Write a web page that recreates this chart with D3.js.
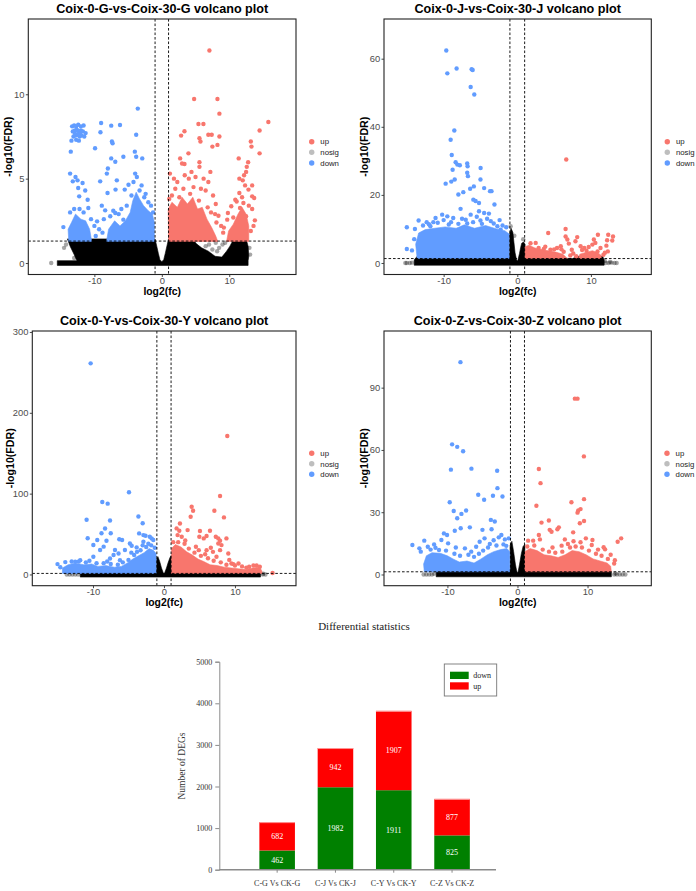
<!DOCTYPE html>
<html><head><meta charset="utf-8">
<script src="https://cdn.jsdelivr.net/npm/d3@7"></script>
<style>body{margin:0;background:#fff}svg{display:block}</style>
</head><body>
<svg id="chart" width="696" height="891"></svg>
<script>
// ---------------- DATA ----------------
const volcanoTitles = ["Coix-0-G-vs-Coix-30-G volcano plot","Coix-0-J-vs-Coix-30-J volcano plot","Coix-0-Y-vs-Coix-30-Y volcano plot","Coix-0-Z-vs-Coix-30-Z volcano plot"];
const legendLabels = ["up","nosig","down"];
const xTicks = [-10,0,10];
const gYTicks = [0,5,10];
const jYTicks = [0,20,40,60];
const yYTicks = [0,100,200,300];
const zYTicks = [0,30,60,90];
const fcCut = 1;
const fdrCut = 1.301;

// Panel G
const gNosigZones = [[[-15.5,-0.14],[-15.5,0.14],[-12.6,0.14],[-13.0,0.5],[-13.6,1.0],[-14.0,1.43],[-1.0,1.43],[-0.75,1.0],[-0.5,0.55],[-0.28,0.2],[0,0.08],[0.28,0.2],[0.5,0.55],[0.75,1.0],[1.0,1.43],[4.6,1.43],[5.1,1.15],[5.9,0.9],[6.9,0.7],[7.9,0.4],[8.9,0.35],[9.6,0.7],[10.1,1.0],[10.5,1.3],[10.7,1.43],[12.5,1.43],[12.8,1.0],[12.9,0.4],[12.8,0.14],[12.8,-0.14]]];
const gNosig = [[-16.4,0],[-14.5,0.9],[-14.2,1.1],[-13.0,0.3],[-12.3,0.3],[8.5,0.9],[9.0,1.1],[8.2,0.7],[9.4,1.2],[7.5,0.8],[6.5,1.0],[13.1,0.5],[13.0,0.9],[7.0,1.1],[8.0,1.2]];
const gUpZones = [
 [[1.0,1.28],[0.95,3.2],[1.5,3.6],[2.3,3.3],[3.0,3.9],[3.8,3.5],[4.6,3.9],[5.3,3.2],[6.0,3.3],[6.7,2.6],[7.4,2.1],[8.0,1.6],[8.3,1.28]],
 [[9.6,1.28],[9.9,1.9],[10.6,2.3],[11.3,2.9],[11.9,3.3],[12.5,2.9],[12.9,2.2],[12.9,1.28]]
];
const gDownZones = [
 [[-13.8,1.28],[-13.9,2.0],[-13.4,2.4],[-12.8,2.9],[-12.0,2.6],[-11.3,2.5],[-10.7,2.0],[-10.4,1.28]],
 [[-8.2,1.28],[-7.9,2.0],[-7.0,2.5],[-6.2,2.2],[-5.4,2.5],[-4.7,3.0],[-4.3,3.7],[-3.8,4.2],[-3.3,3.8],[-2.7,3.4],[-2.0,3.1],[-1.4,2.9],[-1.1,2.4],[-1.1,1.28]]
];
const gUp = [[7.06,12.59],[4.79,9.72],[8.25,9.72],[8.54,8.85],[15.8,8.36],[14.5,7.85],[3.36,7.81],[2.86,7.55],[5.43,8.24],[6.17,8.24],[6.9,7.6],[7.4,7.6],[8.54,7.5],[5.58,7.4],[5.73,7.2],[7.5,6.9],[8.25,7.0],[13.2,7.2],[13.3,6.9],[14.5,6.5],[3.95,6.5],[2.72,6.2],[11.4,6.2],[3.0,5.9],[3.36,5.87],[5.58,5.97],[12.8,5.97],[12.6,5.7],[5.58,5.7],
 [1.2,5.3],[1.8,5.0],[2.3,4.8],[3.4,5.2],[4.0,5.0],[4.4,5.4],[5.0,5.1],[6.2,5.0],[6.9,4.8],[7.2,5.4],[4.7,4.5],[2.0,4.4],[6.5,4.3],[7.6,4.0],[8.0,3.5],[8.4,2.8],[7.9,2.9],[1.5,4.0],[3.2,4.4],[5.8,4.4],[1.1,3.8],[2.6,3.9],[4.2,4.1],[5.5,3.7],[6.8,3.3],[7.3,3.0],[8.8,2.2],[9.1,1.8],
 [12.5,5.4],[12.2,5.2],[12.0,4.9],[11.5,5.0],[12.35,4.6],[13.4,4.6],[12.85,4.35],[11.5,4.15],[13.4,3.95],[13.7,3.85],[10.9,3.75],[11.1,3.65],[10.3,3.36],[9.8,2.96],[9.7,2.57],[11.6,3.26],[13.8,2.53],[12.5,2.77],[12.1,3.56],[8.1,2.4],[9.2,2.1],[13.4,3.2],[13.6,2.2],[10.6,2.7],[11.9,3.9],[12.9,3.4],[13.2,1.9]];
const gDown = [[-13.3,8.1],[-13.0,8.15],[-12.7,8.1],[-12.4,8.2],[-12.0,8.1],[-11.6,8.15],[-13.2,7.8],[-12.9,7.85],[-12.6,7.9],[-12.3,7.8],[-12.0,7.85],[-11.7,7.8],[-13.1,7.5],[-12.8,7.55],[-12.5,7.6],[-12.2,7.5],[-11.9,7.55],[-11.5,7.5],[-12.7,7.3],[-12.3,7.25],[-13.4,7.25],[-11.3,7.7],[-12.1,7.65],[-12.9,7.7],
 [-3.56,9.15],[-9.0,8.3],[-7.5,8.14],[-6.2,8.18],[-9.1,7.75],[-3.8,7.6],[-7.4,7.2],[-7.3,7.1],[-9.9,6.8],[-13.5,6.6],[-4.0,6.6],[-3.8,6.3],[-5.7,6.3],[-7.5,6.2],[-6.9,6.0],[-2.9,6.2],[-3.95,5.3],[-3.7,5.1],[-8.0,5.6],[-8.15,5.3],[-13.6,5.3],[-12.8,5.1],[-12.5,4.9],[-13.2,4.84],[-11.75,4.74],[-9.14,4.84],[-6.67,4.9],[-4.94,4.64],[-6.86,4.35],[-5.5,4.35],[-11.36,4.3],[-12.4,4.45],[-12.25,3.95],[-11.0,3.75],[-8.05,4.15],[-8.9,3.4],[-12.2,3.2],[-10.9,3.26],[-14.6,2.13],[-8.4,3.12],[-6.9,2.96],[-5.7,2.57],[-9.6,2.47],[-7.65,2.77],
 [-9.3,2.0],[-8.8,1.8],[-9.8,1.6],[-10.0,2.2],[-13.6,3.0],[-13.0,3.2],[-11.6,3.0],[-10.5,2.6],[-6.0,3.2],[-5.2,3.4],[-4.5,4.0],[-2.4,4.1],[-2.0,3.6],[-1.6,3.4],[-3.0,4.6],[-4.2,4.8],[-8.6,2.6],[-7.2,3.1],[-6.4,2.9],[-1.3,3.0],[-3.3,4.3],[-2.6,3.9]];

// Panel J
const jNosigZones = [[[-14.0,-0.65],[-14.0,0.9],[-13.6,1.95],[-1.05,1.95],[-1.05,8.5],[-0.85,10.2],[-0.6,9.0],[-0.45,6.0],[-0.3,3.0],[-0.1,1.0],[0,0.5],[0.1,1.0],[0.3,2.8],[0.45,4.5],[0.6,5.8],[0.85,6.2],[1.05,5.5],[1.05,1.95],[5.5,1.95],[6.2,1.4],[7.5,1.3],[8.2,1.95],[11.6,1.95],[11.8,0.9],[11.8,-0.65]]];
const jNosig = [[-15.0,0],[-14.6,0],[-14.3,0.1],[-15.2,0],[12.0,0],[12.4,0],[12.8,0.1],[13.2,0],[13.5,0],[11.9,0.6],[12.6,0.3],[-0.9,10.8],[0.8,7.0],[-0.4,8.0]];
const jUpZones = [
 [[1.05,1.3],[1.05,4.8],[1.6,5.2],[2.4,4.4],[3.2,4.0],[4.2,3.6],[5.2,3.2],[6.2,2.6],[6.8,1.3]],
 [[8.3,1.3],[8.5,2.6],[9.3,3.1],[10.2,3.6],[10.9,3.1],[11.4,2.2],[11.4,1.3]]
];
const jDownZones = [[[-13.6,1.3],[-13.8,5.5],[-13.4,8.8],[-12.5,9.8],[-11.2,10.2],[-9.8,10.6],[-8.3,10.2],[-7.2,11.2],[-5.8,10.2],[-4.3,11.0],[-2.8,10.0],[-1.7,9.5],[-1.1,8.5],[-1.1,1.3]]];
const jUp = [[6.65,30.4],[4.2,8.8],[6.56,10.0],[8.14,7.6],[10.95,8.3],[12.35,8.3],[13.0,7.8],[12.2,6.7],[12.9,6.6],[12.1,5.1],[10.4,6.9],[10.6,5.9],[10.2,5.4],[6.56,7.8],[6.8,6.9],[7.0,5.7],[5.9,4.9],[5.4,4.4],[7.9,6.4],[8.6,4.9],[9.1,4.4],[9.7,4.7],[2.5,5.9],[2.9,4.4],[3.6,4.1],[4.5,3.9],[11.3,4.4],[10.9,3.4],
 [7.2,2.2],[7.6,2.8],[8.0,2.0],[6.3,3.3],[7.4,3.9],[11.7,2.4],[11.9,3.0],[12.3,3.4],[1.8,5.8],[3.8,4.8],[5.0,4.0],[9.4,3.6],[8.8,3.8],[6.0,4.0]];
const jDown = [[-9.64,62.4],[-9.5,55.7],[-8.24,57.1],[-6.2,56.9],[-6.06,56.7],[-6.33,51.7],[-5.84,49.5],[-8.55,38.9],[-9.05,36.2],[-8.9,31.7],[-8.37,29.6],[-8.14,28.9],[-8.78,27.4],[-6.8,29.2],[-6.75,28.4],[-7.8,28.7],[-4.98,27.9],[-9.73,23.3],[-8.96,23.9],[-8.5,24.5],[-6.8,26.5],[-6.7,25.5],[-5.0,24.5],[-5.9,22.5],[-6.4,21.8],[-7.33,20.8],[-8.0,20.1],[-4.5,22.0],[-3.7,21.1],[-3.5,21.1],[-5.97,18.6],[-5.66,18.2],[-5.2,17.6],[-7.7,15.9],[-3.1,17.2],[-10.2,14.2],[-9.5,13.7],[-8.7,13.2],[-6.33,14.2],[-5.2,15.2],[-4.5,14.7],[-3.85,14.5],[-7.0,12.7],[-3.6,12.3],[-12.3,12.0],[-11.4,12.0],[-13.4,12.5],[-15.0,10.5],[-15.0,4.1],[-14.3,3.7],[-11.1,13.2],[-11.8,10.8],[-2.7,10.8],[-2.26,9.8],
 [-10.8,11.8],[-9.0,12.0],[-8.0,11.5],[-6.0,12.0],[-5.0,12.5],[-4.8,11.5],[-3.2,11.6],[-2.0,11.0],[-1.5,10.5],[-12.8,11.0],[-13.9,10.0],[-14.0,7.0],[-7.5,13.0],[-10.0,12.6],[-5.5,13.6],[-4.1,13.0],[-2.4,12.6],[-6.8,11.6],[-9.3,11.3],[-12.0,11.4]];

// Panel Y
const yNosigZones = [[[-11.8,-3.2],[-11.8,3.2],[-11.0,4.0],[-1.05,4.0],[-1.05,20],[-0.85,22],[-0.6,16],[-0.35,8],[-0.1,2],[0,1],[0.1,2],[0.35,8],[0.6,15],[0.85,21],[1.05,24],[1.05,4.0],[13.0,4.0],[13.6,3.0],[13.6,-3.2]]];
const yNosig = [[-13.7,0],[-13.3,0],[-12.9,0],[-12.5,0],[-12.1,0],[13.9,0],[14.3,0],[14.0,1.0]];
const yUpZones = [[[1.05,1.3],[1.05,32],[1.6,37],[2.4,34],[3.2,28],[4.0,24],[4.8,19],[5.6,16],[6.5,12],[7.5,11],[8.5,9],[9.5,8],[10.5,7],[11.5,6],[12.5,8],[13.5,9],[13.8,4],[13.8,1.3]]];
const yDownZones = [[[-14.3,1.3],[-14.3,8],[-13.5,12],[-12.5,14],[-11.3,12],[-10.2,13],[-9.3,10],[-8.2,11],[-7.0,9],[-6.0,10],[-5.2,14],[-4.4,19],[-3.6,23],[-2.8,27],[-2.1,32],[-1.5,30],[-1.1,26],[-1.1,1.3]]];
const yUp = [[8.92,171.3],[7.9,97.0],[7.1,78.8],[8.45,70.6],[3.9,83.8],[4.1,78.8],[3.76,71.4],[2.25,63.1],[1.78,57.0],[2.16,54.1],[3.33,54.9],[5.07,53.7],[6.48,54.1],[1.92,48.7],[2.5,46.6],[4.98,46.6],[6.0,47.5],[5.6,44.6],[7.3,46.6],[7.65,44.6],[8.8,44.6],[7.9,41.7],[7.65,38.4],[8.1,36.3],[7.9,30.1],[6.9,28],[4.5,34.3],[4.9,30.1],[6.0,30.1],[9.06,26],[9.5,13.6],[9.77,12.8],[10.5,13.6],[13.05,11.1],[13.5,9.5],[15.3,1.8],
 [1.3,40],[2.0,40],[2.9,38],[3.5,32],[4.3,27],[5.2,23],[6.2,20],[7.0,17],[8.0,15],[8.8,12],[10.0,11],[11.0,10],[12.0,9.5],[12.6,11],[7.4,22],[5.8,25],[3.0,42],[11.6,8.5],[9.2,18],[6.6,33]];
const yDown = [[-10.33,261.2],[-4.93,101.7],[-8.69,89.6],[-7.93,87.6],[-10.9,67.6],[-7.6,66.8],[-3.6,71.8],[-3.0,63.3],[-8.3,56.8],[-8.8,51.0],[-7.5,51.0],[-10.75,44.8],[-9.4,42.7],[-6.3,43.5],[-5.9,42.7],[-8.1,41.8],[-2.9,48.7],[-3.5,50.8],[-2.6,47.9],[-2.0,46.6],[-1.74,44.6],[-1.5,42.7],[-2.9,40.4],[-8.5,34.4],[-9.95,36.5],[-9.0,30.2],[-7.1,24],[-6.4,26],[-4.8,38.4],[-4.55,35.5],[-3.85,33.5],[-6.9,30.2],[-6.2,17.7],[-9.95,22],[-11.8,17.7],[-12.5,15.7],[-15.0,12.8],[-13.9,15.3],[-5.5,30.2],[-7.6,19.8],
 [-14.6,9],[-13.0,16],[-12.0,16],[-11.0,15],[-10.5,17],[-9.5,14],[-8.5,14],[-7.5,13],[-6.5,12],[-5.8,15],[-5.0,18],[-4.2,24],[-3.8,28],[-3.3,30],[-2.5,34],[-1.8,36],[-1.3,33],[-2.2,38],[-3.0,36],[-4.6,27],[-8.0,16]];

// Panel Z
const zNosigZones = [[[-11.6,-1.1],[-11.6,1.5],[-11.2,2.4],[-1.05,2.4],[-1.05,14],[-0.8,16],[-0.55,11],[-0.3,5],[-0.1,1.5],[0,0.8],[0.1,1.5],[0.3,5],[0.55,10],[0.8,13.5],[1.05,14.5],[1.05,2.4],[13.0,2.4],[13.4,1.4],[13.4,-1.1]]];
const zNosig = [[-13.4,0],[-13.0,0],[-12.6,0],[-12.2,0],[-11.9,0.3],[13.8,0],[14.2,0],[14.6,0],[15.0,0],[15.4,0],[14.0,0.5]];
const zUpZones = [[[1.05,1.3],[1.05,11],[1.8,12.5],[2.8,11.5],[3.8,9.5],[4.8,9],[5.8,8.2],[6.8,9.5],[7.8,11.5],[8.8,11],[9.8,9.5],[10.8,7.5],[11.8,6.5],[12.8,5.5],[13.3,4],[13.4,1.3]]];
const zDownZones = [[[-13.3,1.3],[-13.4,5],[-13.0,9],[-12.2,10.5],[-11.0,10.2],[-10.0,9.0],[-9.2,7.5],[-8.3,6.0],[-7.2,6.5],[-6.2,5.5],[-5.2,7.5],[-4.3,9.5],[-3.4,11],[-2.4,12],[-1.5,12.5],[-1.1,11],[-1.1,1.3]]];
const zUp = [[8.19,84.7],[8.57,84.7],[9.48,56.9],[3.05,50.8],[3.29,44.0],[2.7,33.1],[3.43,25.0],[4.48,26.0],[7.7,34.8],[9.5,36.3],[8.67,30.8],[9.0,31.5],[8.57,29.8],[9.5,25.8],[8.9,24.7],[7.95,20.3],[5.9,22.7],[5.7,21.8],[4.6,21.5],[4.86,20.6],[3.05,19.0],[3.2,16.9],[1.52,16.3],[2.24,16.3],[6.76,16.9],[9.76,17.4],[10.7,16.6],[14.8,17.4],[14.3,15.8],[6.3,13.9],[7.2,14.7],[12.3,13.1],[12.5,12.1],[13.9,6.9],[13.8,5.3],[10.6,14.2],
 [1.4,13.5],[2.4,14],[3.6,12],[4.5,11],[5.4,10.5],[6.4,11],[7.5,13],[8.3,13.5],[9.2,13],[10.2,11.5],[11.2,10],[12.0,9],[12.9,7.5],[8.0,16],[9.0,15.5],[5.0,13],[11.5,12],[13.3,9.5]];
const zDown = [[-8.14,102.3],[-9.33,62.7],[-8.6,61.5],[-7.76,59.4],[-9.5,50.5],[-6.57,51.0],[-2.9,50.0],[-2.86,41.6],[-5.6,38.4],[-4.76,36.0],[-3.5,37.9],[-2.14,37.6],[-9.67,34.8],[-9.1,30.6],[-7.33,30.8],[-8.0,29.2],[-8.6,27.1],[-3.8,26.3],[-3.24,25.5],[-6.8,22.7],[-8.1,22.3],[-8.95,21.1],[-10.5,19.8],[-10.05,19],[-5.0,21.5],[-3.7,21.8],[-2.3,19],[-2.67,17.9],[-1.8,16.9],[-1.24,17.4],[-15.0,14.2],[-14.0,12.6],[-13.3,16.3],[-10.86,16.6],[-12.8,13.4],[-11.7,12.9],[-9.9,15],[-7.5,12.6],[-5.9,13.4],[-5.4,15.8],[-4.7,17.4],[-3.95,14.7],
 [-13.8,11],[-12.4,12],[-11.2,11.8],[-10.2,11.5],[-9.0,10],[-8.2,9.0],[-7.0,9.5],[-6.2,8.5],[-5.5,10],[-4.9,11.5],[-4.2,13],[-3.0,14],[-2.0,14.5],[-1.6,13.8],[-8.8,13],[-6.6,11],[-11.9,14.5],[-3.4,16.5]];

// Bar chart
const barTitle = "Differential statistics";
const barCats = ["C-G Vs CK-G","C-J Vs CK-J","C-Y Vs CK-Y","C-Z Vs CK-Z"];
const downCounts = [462,1982,1911,825];
const upCounts = [682,942,1907,877];
const barYTicks = [0,1000,2000,3000,4000,5000];
const barSeries = ["down","up"];

// ---------------- RENDER ----------------
const svg = d3.select("#chart");
const SANS = "'Liberation Sans', Arial, Helvetica, sans-serif";
const SERIF = "'Liberation Serif', 'Times New Roman', serif";
const COL = {up:"#F8766D", down:"#619CFF", nosig:"#000000", legNosig:"#BEBEBE"};

const panels = [
 {title:volcanoTitles[0], yTicks:gYTicks, up:gUp, down:gDown, nosig:gNosig, upZ:gUpZones, downZ:gDownZones, nosigZ:gNosigZones,
  box:{x0:28.3,x1:296,y0:19,y1:274.5}, xd:[-19.8,19.9], yd:[-0.68,14.46], ytx:8.3, legX:311.7, legY:[141.7,152.3,163]},
 {title:volcanoTitles[1], yTicks:jYTicks, up:jUp, down:jDown, nosig:jNosig, upZ:jUpZones, downZ:jDownZones, nosigZ:jNosigZones,
  box:{x0:384,x1:651.3,y0:19,y1:274.5}, xd:[-18.1,18.2], yd:[-3.38,71.66], ytx:364.3, legX:667.3, legY:[141.7,152.3,163]},
 {title:volcanoTitles[2], yTicks:yYTicks, up:yUp, down:yDown, nosig:yNosig, upZ:yUpZones, downZ:yDownZones, nosigZ:yNosigZones,
  box:{x0:32.3,x1:296,y0:331,y1:585.7}, xd:[-18.55,18.6], yd:[-13.9,301.2], ytx:10.3, legX:311.7, legY:[453.3,463.8,474.3]},
 {title:volcanoTitles[3], yTicks:zYTicks, up:zUp, down:zDown, nosig:zNosig, upZ:zUpZones, downZ:zDownZones, nosigZ:zNosigZones,
  box:{x0:384,x1:651.3,y0:331,y1:585.7}, xd:[-19.05,19.1], yd:[-5.4,117.3], ytx:364.3, legX:667, legY:[453.3,463.8,474.3]}
];

const defs = svg.append("defs");
panels.forEach((p,i)=>{
  const b = p.box;
  const x = d3.scaleLinear().domain(p.xd).range([b.x0,b.x1]);
  const y = d3.scaleLinear().domain(p.yd).range([b.y1,b.y0]);
  defs.append("clipPath").attr("id","clip"+i).append("rect")
    .attr("x",b.x0).attr("y",b.y0).attr("width",b.x1-b.x0).attr("height",b.y1-b.y0);
  const g = svg.append("g");
  const plot = g.append("g").attr("clip-path",`url(#clip${i})`);
  const area = d3.line().x(d=>x(d[0])).y(d=>y(d[1])).curve(d3.curveLinearClosed);

  plot.selectAll(".nz").data(p.nosigZ).join("path").attr("d",area).attr("fill","#000").attr("stroke","#000").attr("stroke-width",0.6);
  plot.selectAll(".np").data(p.nosig).join("circle").attr("cx",d=>x(d[0])).attr("cy",d=>y(d[1])).attr("r",2.2).attr("fill","rgba(0,0,0,0.35)");
  plot.selectAll(".dz").data(p.downZ).join("path").attr("d",area).attr("fill",COL.down).attr("stroke",COL.down).attr("stroke-width",0.6);
  plot.selectAll(".uz").data(p.upZ).join("path").attr("d",area).attr("fill",COL.up).attr("stroke",COL.up).attr("stroke-width",0.6);
  plot.selectAll(".dp").data(p.down).join("circle").attr("cx",d=>x(d[0])).attr("cy",d=>y(d[1])).attr("r",2.2).attr("fill",COL.down);
  plot.selectAll(".up").data(p.up).join("circle").attr("cx",d=>x(d[0])).attr("cy",d=>y(d[1])).attr("r",2.2).attr("fill",COL.up);

  // threshold lines
  const dash = {"stroke":"#000","stroke-width":0.9,"stroke-dasharray":"2.6,1.9"};
  [-fcCut, fcCut].forEach(v=>{
    const l = plot.append("line").attr("x1",x(v)).attr("x2",x(v)).attr("y1",b.y0).attr("y2",b.y1);
    Object.entries(dash).forEach(([k,val])=>l.attr(k,val));
  });
  const hl = plot.append("line").attr("x1",b.x0).attr("x2",b.x1).attr("y1",y(fdrCut)).attr("y2",y(fdrCut));
  Object.entries(dash).forEach(([k,val])=>hl.attr(k,val));

  // frame
  g.append("rect").attr("x",b.x0).attr("y",b.y0).attr("width",b.x1-b.x0).attr("height",b.y1-b.y0)
    .attr("fill","none").attr("stroke","#222").attr("stroke-width",1.1);

  // axes
  const ax = g.append("g").attr("transform",`translate(0,${b.y1})`)
    .call(d3.axisBottom(x).tickValues(xTicks).tickSize(2.5).tickPadding(0.5).tickFormat(d3.format("d")));
  const ay = g.append("g").attr("transform",`translate(${b.x0},0)`)
    .call(d3.axisLeft(y).tickValues(p.yTicks).tickSize(2.5).tickPadding(1.3).tickFormat(d3.format("d")));
  [ax,ay].forEach(a=>{
    a.select(".domain").remove();
    a.selectAll(".tick line").attr("stroke","#333").attr("stroke-width",0.9);
    a.selectAll(".tick text").attr("fill","#4D4D4D").style("font-family",SANS).style("font-size","9.4px");
  });
  ax.selectAll(".tick text").text(d=>d<0?"-"+Math.abs(d):d);

  // titles
  g.append("text").attr("x",(b.x0+b.x1)/2).attr("y",b.y0-5.6).attr("text-anchor","middle")
    .style("font-family",SANS).style("font-weight","bold").style("font-size","12.6px").text(p.title);
  g.append("text").attr("x",(b.x0+b.x1)/2).attr("y",b.y1+20.2).attr("text-anchor","middle")
    .style("font-family",SANS).style("font-weight","bold").style("font-size","10.4px").text("log2(fc)");
  g.append("text").attr("transform",`translate(${p.ytx},${(b.y0+b.y1)/2}) rotate(-90)`).attr("dy","0.35em")
    .attr("text-anchor","middle").style("font-family",SANS).style("font-weight","bold").style("font-size","10.6px").text("-log10(FDR)");

  // legend
  const legCols = [COL.up, COL.legNosig, COL.down];
  legendLabels.forEach((lab,k)=>{
    g.append("circle").attr("cx",p.legX).attr("cy",p.legY[k]).attr("r",2.7).attr("fill",legCols[k]);
    g.append("text").attr("x",p.legX+8.6).attr("y",p.legY[k]).attr("dy","0.35em")
      .style("font-family",SANS).style("font-size","7.8px").attr("fill","#222").text(lab);
  });
});

// ---------------- BAR CHART ----------------
const bx = d3.scaleBand().domain(barCats).range([248,481.2]).paddingInner(0.39).paddingOuter(0.195);
const by = d3.scaleLinear().domain([0,5000]).range([869.7,661.7]);
const barRows = barCats.map((c,i)=>({cat:c, down:downCounts[i], up:upCounts[i]}));
const stack = d3.stack().keys(barSeries)(barRows);
const barCol = {down:"#008000", up:"#FF0000"};
const bg = svg.append("g");

bg.append("text").attr("x",364).attr("y",629.5).attr("text-anchor","middle")
  .style("font-family",SERIF).style("font-size","11px").attr("fill","#222").text(barTitle);

stack.forEach(s=>{
  bg.append("g").selectAll("rect").data(s).join("rect")
    .attr("x",d=>bx(d.data.cat)).attr("width",bx.bandwidth())
    .attr("y",d=>by(d[1])).attr("height",d=>by(d[0])-by(d[1]))
    .attr("fill",barCol[s.key]);
  if (s.key==="up") {
    bg.append("g").selectAll("line").data(s).join("line")
      .attr("x1",d=>bx(d.data.cat)).attr("x2",d=>bx(d.data.cat)+bx.bandwidth())
      .attr("y1",d=>by(d[1])+0.5).attr("y2",d=>by(d[1])+0.5)
      .attr("stroke","#ff9a9a").attr("stroke-width",1);
  }
  bg.append("g").selectAll("text").data(s).join("text")
    .attr("x",d=>bx(d.data.cat)+bx.bandwidth()/2).attr("y",d=>(by(d[0])+by(d[1]))/2).attr("dy","0.35em")
    .attr("text-anchor","middle").attr("fill","#fff").style("font-family",SERIF).style("font-size","8px")
    .text(d=>d.data[s.key]);
});

// axes
const yAx = bg.append("g").attr("transform","translate(219.3,0)")
  .call(d3.axisLeft(by).tickValues(barYTicks).tickSize(4).tickPadding(3).tickFormat(d3.format("d")));
yAx.select(".domain").attr("stroke","#8a8a8a").attr("stroke-width",1);
yAx.selectAll(".tick line").attr("stroke","#8a8a8a");
yAx.selectAll(".tick text").style("font-family",SERIF).style("font-size","8px").attr("fill","#333");

const xAx = bg.append("g").attr("transform","translate(0,869.7)")
  .call(d3.axisBottom(bx).tickSize(3).tickPadding(8));
xAx.select(".domain").remove();
xAx.selectAll(".tick line").attr("stroke","#8a8a8a");
xAx.selectAll(".tick text").style("font-family",SERIF).style("font-size","8px").attr("fill","#333");
bg.append("line").attr("x1",219.3).attr("x2",496).attr("y1",869.7).attr("y2",869.7)
  .attr("stroke","#8a8a8a").attr("stroke-width",1.4);

bg.append("text").attr("transform","translate(182,766) rotate(-90)").attr("dy","0.35em").attr("text-anchor","middle")
  .style("font-family",SERIF).style("font-size","9.5px").attr("fill","#333").text("Number of DEGs");

// legend
const lg = bg.append("g");
lg.append("rect").attr("x",444.3).attr("y",664).attr("width",52.4).attr("height",32)
  .attr("fill","#fff").attr("stroke","#777").attr("stroke-width",0.9);
barSeries.forEach((k,i)=>{
  lg.append("rect").attr("x",450).attr("y",671.7+i*10.6).attr("width",18.7).attr("height",7.3).attr("fill",barCol[k]);
  lg.append("text").attr("x",473.3).attr("y",675.4+i*10.6).attr("dy","0.35em")
    .style("font-family",SERIF).style("font-size","8px").attr("fill","#222").text(k);
});
</script>
</body></html>
